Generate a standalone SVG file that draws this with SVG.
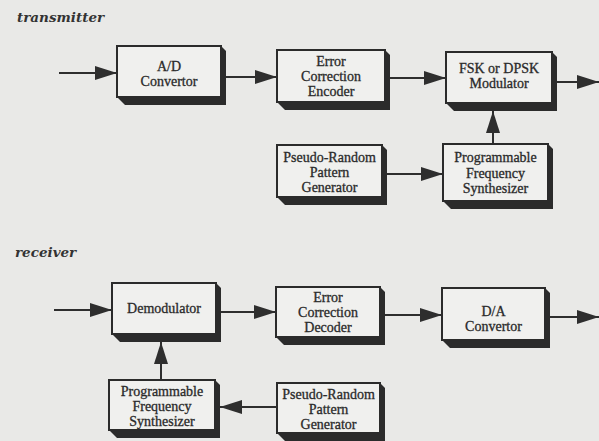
<svg xmlns="http://www.w3.org/2000/svg" width="599" height="441" viewBox="0 0 599 441">
<defs>
<marker id="ah" markerUnits="userSpaceOnUse" markerWidth="22" markerHeight="14" refX="22" refY="7" orient="auto">
<path d="M0,0 L22,7 L0,14 z" fill="#2e2e2e"/>
</marker>
<style>
.face{fill:#f0f0ee;stroke:#2b2b2b;stroke-width:2}
.shadow{fill:#2b2b2b}
.t{font-family:"Liberation Serif","DejaVu Serif",serif;font-size:14px;fill:#2a2a2a;stroke:#2a2a2a;stroke-width:0.3;text-anchor:middle}
.h{font-family:"DejaVu Serif","Liberation Serif",serif;font-size:13.5px;font-weight:bold;font-style:italic;fill:#333}
.c{stroke:#2e2e2e;stroke-width:2;fill:none;marker-end:url(#ah)}
</style>
</defs>
<rect width="599" height="441" fill="#e9e9e7"/>
<text class="h" x="17" y="22">transmitter</text>
<text class="h" x="15" y="257">receiver</text>

<g id="ad">
<polygon class="shadow" points="221,46 226,51 226,105 125,105 117,97"/>
<rect class="face" x="117" y="46" width="104" height="51"/>
<text class="t" x="169" y="71">A/D</text>
<text class="t" x="169" y="86">Convertor</text>
</g>
<g id="enc">
<polygon class="shadow" points="385,50 390,55 390,110 285,110 277,102"/>
<rect class="face" x="277" y="50" width="108" height="52"/>
<text class="t" x="331" y="66">Error</text>
<text class="t" x="331" y="81">Correction</text>
<text class="t" x="331" y="96">Encoder</text>
</g>
<g id="fsk">
<polygon class="shadow" points="552,52 557,57 557,111 454,111 446,103"/>
<rect class="face" x="446" y="52" width="106" height="51"/>
<text class="t" x="499" y="73">FSK or DPSK</text>
<text class="t" x="499" y="88">Modulator</text>
</g>
<g id="prt">
<polygon class="shadow" points="382,145 387,150 387,205 285,205 277,197"/>
<rect class="face" x="277" y="145" width="105" height="52"/>
<text class="t" x="329.5" y="162">Pseudo-Random</text>
<text class="t" x="329.5" y="177">Pattern</text>
<text class="t" x="329.5" y="192">Generator</text>
</g>
<g id="pfst">
<polygon class="shadow" points="548,144 553,149 553,209 451,209 443,201"/>
<rect class="face" x="443" y="144" width="105" height="57"/>
<text class="t" x="495.5" y="162">Programmable</text>
<text class="t" x="495.5" y="178">Frequency</text>
<text class="t" x="495.5" y="193">Synthesizer</text>
</g>

<g id="dem">
<polygon class="shadow" points="216,283 221,288 221,342 120,342 112,334"/>
<rect class="face" x="112" y="283" width="104" height="51"/>
<text class="t" x="164" y="313">Demodulator</text>
</g>
<g id="dec">
<polygon class="shadow" points="380,287 385,292 385,345 284,345 276,337"/>
<rect class="face" x="276" y="287" width="104" height="50"/>
<text class="t" x="328" y="302">Error</text>
<text class="t" x="328" y="317">Correction</text>
<text class="t" x="328" y="332">Decoder</text>
</g>
<g id="da">
<polygon class="shadow" points="545,288 550,293 550,348 450,348 442,340"/>
<rect class="face" x="442" y="288" width="103" height="52"/>
<text class="t" x="493.5" y="316">D/A</text>
<text class="t" x="493.5" y="331">Convertor</text>
</g>
<g id="pfsr">
<polygon class="shadow" points="215,380 220,385 220,438 117,438 109,430"/>
<rect class="face" x="109" y="380" width="106" height="50"/>
<text class="t" x="162" y="396">Programmable</text>
<text class="t" x="162" y="411">Frequency</text>
<text class="t" x="162" y="426">Synthesizer</text>
</g>
<g id="prr">
<polygon class="shadow" points="380,383 385,388 385,441 285,441 277,433"/>
<rect class="face" x="277" y="383" width="103" height="50"/>
<text class="t" x="328.5" y="399">Pseudo-Random</text>
<text class="t" x="328.5" y="414">Pattern</text>
<text class="t" x="328.5" y="429">Generator</text>
</g>

<g id="connectors">
<line class="c" x1="59" y1="73" x2="117" y2="73"/>
<line class="c" x1="226" y1="77" x2="277" y2="77"/>
<line class="c" x1="390" y1="78" x2="446" y2="78"/>
<line class="c" x1="557" y1="82" x2="599" y2="82"/>
<line class="c" x1="387" y1="174" x2="443" y2="174"/>
<line class="c" x1="493" y1="143" x2="493" y2="111"/>
<line class="c" x1="54" y1="310" x2="112" y2="310"/>
<line class="c" x1="221" y1="312" x2="276" y2="312"/>
<line class="c" x1="385" y1="315" x2="442" y2="315"/>
<line class="c" x1="550" y1="317" x2="599" y2="317"/>
<line class="c" x1="161" y1="379" x2="161" y2="342"/>
<line class="c" x1="277" y1="407" x2="220" y2="407"/>
</g>
</svg>
